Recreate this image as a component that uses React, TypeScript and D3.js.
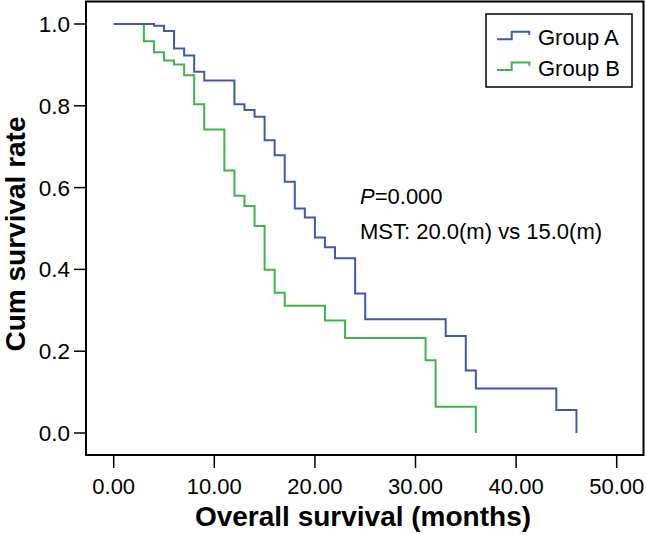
import React from "react";
import * as d3 from "d3";

const groupATimes = [0, 4, 5, 6, 7, 8, 9, 12, 13, 14, 15, 16, 17, 18, 19, 20, 21, 22, 24, 25, 33, 35, 36, 44, 46];
const groupASurv = [1.0, 0.996, 0.983, 0.94, 0.923, 0.883, 0.862, 0.804, 0.79, 0.773, 0.716, 0.679, 0.614, 0.549, 0.527, 0.478, 0.454, 0.427, 0.341, 0.278, 0.237, 0.153, 0.109, 0.056, 0.0];

const groupBTimes = [0, 3, 4, 5, 6, 7, 8, 9, 11, 12, 13, 14, 15, 16, 17, 21, 23, 31, 32, 36];
const groupBSurv = [1.0, 0.958, 0.931, 0.911, 0.901, 0.875, 0.804, 0.742, 0.642, 0.58, 0.555, 0.506, 0.399, 0.343, 0.311, 0.275, 0.232, 0.178, 0.064, 0.0];

const xTicks = [0, 10, 20, 30, 40, 50];
const yTicks = [0, 0.2, 0.4, 0.6, 0.8, 1.0];
const seriesNames = ["Group A", "Group B"];
const seriesColors = ["#4259ab", "#3db54b"];

const FONT = "'Liberation Sans', Arial, Helvetica, sans-serif";

export default function App() {
  const W = 646;
  const H = 535;
  const frame = { left: 86, right: 643.5, top: 1.5, bottom: 455 };
  const x = d3.scaleLinear().domain([0, 50]).range([113.7, 616.7]);
  const y = d3.scaleLinear().domain([0, 1]).range([433, 24]);

  const line = d3
    .line<[number, number]>()
    .x((d) => x(d[0]))
    .y((d) => y(d[1]))
    .curve(d3.curveStepAfter);

  const series = [
    groupATimes.map((t, i) => [t, groupASurv[i]] as [number, number]),
    groupBTimes.map((t, i) => [t, groupBSurv[i]] as [number, number]),
  ];

  return (
    <svg
      width={W}
      height={H}
      style={{ position: "absolute", left: 0, top: 0, background: "#fff" }}
      fontFamily={FONT}
    >
      <rect x={0} y={0} width={W} height={H} fill="#fff" />
      {[1, 0].map((i) => (
        <path
          key={i}
          d={line(series[i]) || ""}
          fill="none"
          stroke={seriesColors[i]}
          strokeWidth={2}
        />
      ))}
      <rect
        x={frame.left}
        y={frame.top}
        width={frame.right - frame.left}
        height={frame.bottom - frame.top}
        fill="none"
        stroke="#000"
        strokeWidth={2}
      />
      {yTicks.map((t) => (
        <g key={t}>
          <line x1={74} x2={frame.left} y1={y(t)} y2={y(t)} stroke="#000" strokeWidth={1.5} />
          <text x={70} y={y(t) + 8} textAnchor="end" fontSize={22.5} fill="#000">
            {t.toFixed(1)}
          </text>
        </g>
      ))}
      {xTicks.map((t) => (
        <g key={t}>
          <line x1={x(t)} x2={x(t)} y1={frame.bottom} y2={468} stroke="#000" strokeWidth={1.5} />
          <text x={x(t)} y={494} textAnchor="middle" fontSize={22} fill="#000">
            {t.toFixed(2)}
          </text>
        </g>
      ))}
      <text x={363} y={526} textAnchor="middle" fontSize={28} fontWeight="bold" fill="#000">
        Overall survival (months)
      </text>
      <text
        transform={`translate(25,234) rotate(-90)`}
        textAnchor="middle"
        fontSize={28}
        fontWeight="bold"
        fill="#000"
      >
        Cum survival rate
      </text>
      <text x={360} y={204} fontSize={22} fill="#000">
        <tspan fontStyle="italic">P</tspan>=0.000
      </text>
      <text x={360} y={239} fontSize={22} fill="#000">
        MST: 20.0(m) vs 15.0(m)
      </text>
      <rect x={486} y={14} width={146} height={73} fill="#fff" stroke="#000" strokeWidth={1.5} />
      {seriesNames.map((name, i) => {
        const cy = 39.3 + i * 30.7;
        return (
          <g key={name}>
            <path
              d={`M497,${cy} H511.7 V${cy - 7.6} H529.3 V${cy - 4.3}`}
              fill="none"
              stroke={seriesColors[i]}
              strokeWidth={2}
            />
            <text x={538} y={cy + 5.5} fontSize={22} fill="#000">
              {name}
            </text>
          </g>
        );
      })}
    </svg>
  );
}
